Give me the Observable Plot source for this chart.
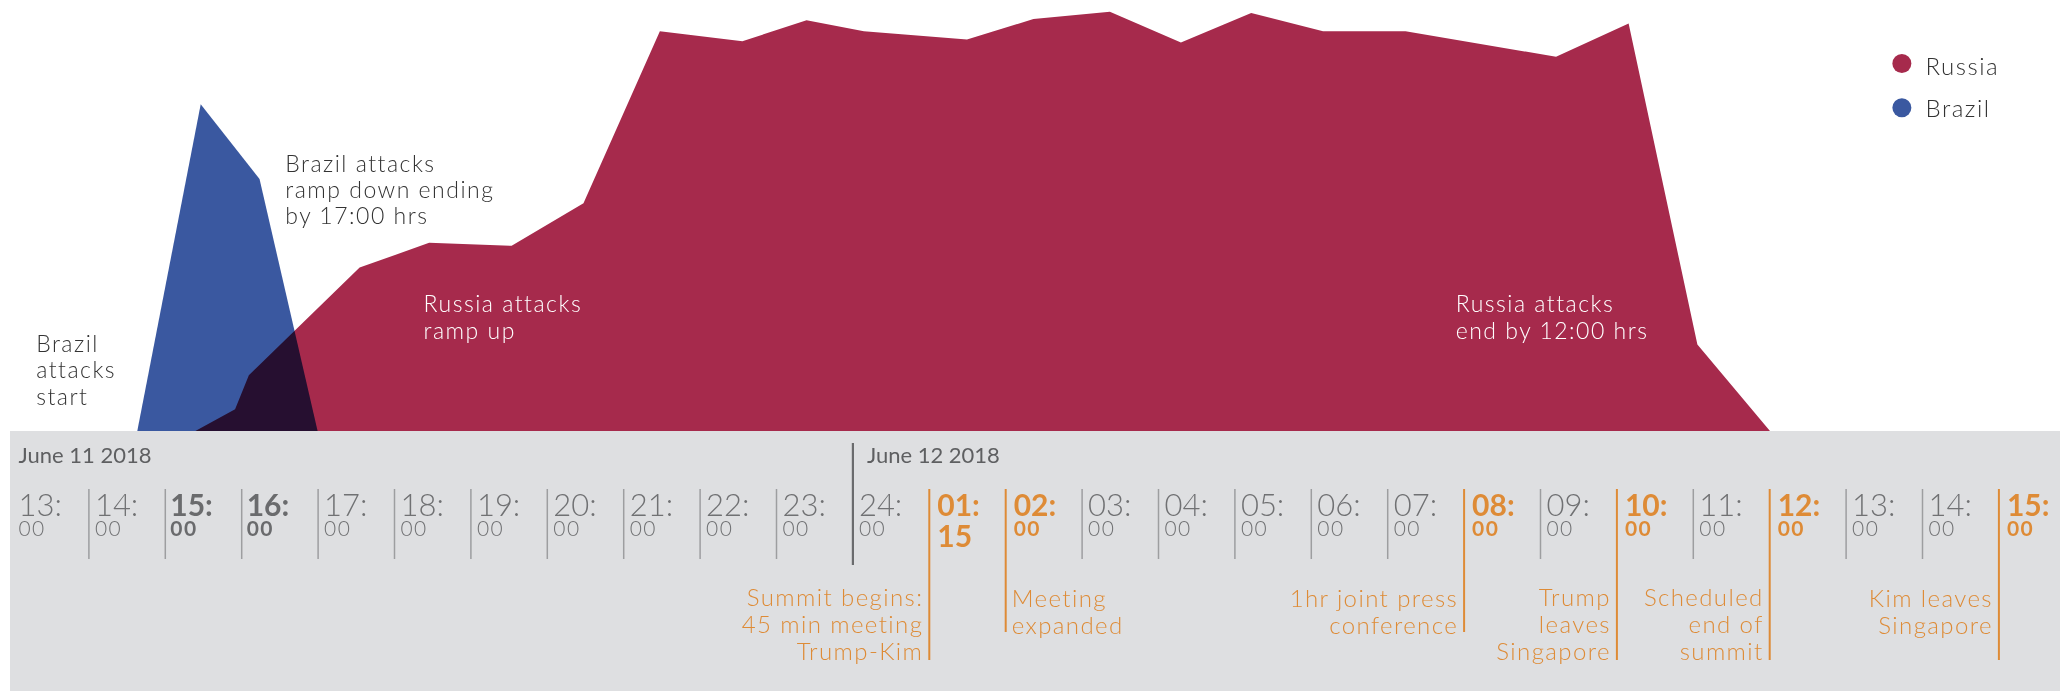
<!DOCTYPE html>
<html><head><meta charset="utf-8">
<script src="https://cdn.jsdelivr.net/npm/d3@7"></script>
<script src="https://cdn.jsdelivr.net/npm/@observablehq/plot@0.6"></script>
<style>
html,body{margin:0;padding:0;background:#fff;overflow:hidden;}
#chart{width:2060px;height:431px;}
#band{margin-left:10px;width:2050px;height:260px;background:#dedfe1;}
</style></head><body>
<div id="chart"></div><div id="band"></div>
<script>
// ---- data ----
// x = hour slots since 13:00 June 11 2018, y = relative attack volume
const russiaHours  = [2.40, 2.92, 3.10, 4.55, 5.46, 6.54, 7.48, 8.48, 9.56, 10.40, 11.15, 12.50, 13.37, 14.37, 15.30, 16.22, 17.16, 18.24, 20.21, 21.16, 22.06, 23.01];
const russiaValues = [0, 5.2, 13.3, 38.9, 44.8, 44.1, 54.2, 95.2, 92.8, 97.8, 95.2, 93.2, 98.1, 99.8, 92.5, 99.5, 95.2, 95.2, 89.1, 97.0, 20.6, 0];
const brazilHours  = [1.64, 2.47, 3.24, 4.00];
const brazilValues = [0, 77.8, 60.0, 0];
const seriesNames  = ["Russia", "Brazil"];
const seriesColors = ["#a62a4c", "#3a58a0"];

const hourTop    = ["13:","14:","15:","16:","17:","18:","19:","20:","21:","22:","23:","24:","01:","02:","03:","04:","05:","06:","07:","08:","09:","10:","11:","12:","13:","14:","15:"];
const hourBottom = ["00","00","00","00","00","00","00","00","00","00","00","00","15","00","00","00","00","00","00","00","00","00","00","00","00","00","00"];
const boldGraySlots = [2, 3];
const eventSlots  = [12, 13, 19, 21, 23, 26];
const eventLabels = ["Summit begins:\n45 min meeting\nTrump-Kim", "Meeting\nexpanded", "1hr joint press\nconference", "Trump\nleaves\nSingapore", "Scheduled\nend of\nsummit", "Kim leaves\nSingapore"];
const eventTextSide = ["left", "right", "left", "left", "left", "left"];
const dateLabels = ["June 11 2018", "June 12 2018"];
const dateSlots  = [0, 11];

const noteTexts  = ["Brazil\nattacks\nstart", "Brazil attacks\nramp down ending\nby 17:00 hrs", "Russia attacks\nramp up", "Russia attacks\nend by 12:00 hrs"];
const noteHours  = [0.31, 3.57, 5.38, 18.89];
const noteValues = [6.4, 49.3, 22.1, 22.1];
const noteInside = [false, false, true, true];

// ---- build ----
const FONT = "Lato, 'Open Sans', sans-serif";
const GRAY = "#707173", ORANGE = "#de8b36", DARK = "#333333";
const xMax = 2048 / 76.4;

const russia = russiaHours.map((h, i) => ({h, v: russiaValues[i]}));
const brazil = brazilHours.map((h, i) => ({h, v: brazilValues[i]}));
const notes = noteTexts.map((t, i) => ({t, h: noteHours[i], v: noteValues[i], inside: noteInside[i]}));
const legend = seriesNames.map((name, i) => ({name, color: seriesColors[i], i}));

const areaChart = Plot.plot({
  width: 2060, height: 431,
  marginLeft: 12, marginRight: 0, marginTop: 11, marginBottom: 0,
  x: {domain: [0, xMax], axis: null},
  y: {domain: [0, 100], axis: null},
  style: {fontFamily: FONT, background: "white", overflow: "visible"},
  marks: [
    Plot.areaY(russia, {x: "h", y: "v", fill: seriesColors[0]}),
    Plot.areaY(brazil, {x: "h", y: "v", fill: seriesColors[1], mixBlendMode: "multiply"}),
    Plot.text(notes.filter(d => !d.inside), {x: "h", y: "v", text: "t", textAnchor: "start", lineAnchor: "bottom", fontSize: 23, lineHeight: 1.14, fontWeight: 300, fill: DARK, className: "spaced"}),
    Plot.text(notes.filter(d => d.inside), {x: "h", y: "v", text: "t", textAnchor: "start", lineAnchor: "bottom", fontSize: 23, lineHeight: 1.14, fontWeight: 300, fill: "white"}),
    Plot.dot(legend, {x: 24.73, y: d => 87.6 - d.i * 10.5, r: 9.5, fill: "color", stroke: null}),
    Plot.text(legend, {x: 25.04, y: d => 85.0 - d.i * 10.2, text: "name", textAnchor: "start", lineAnchor: "bottom", fontSize: 24, fontWeight: 300, fill: DARK})
  ]
});
areaChart.querySelectorAll("text").forEach(t => t.setAttribute("letter-spacing", "1.5"));
document.getElementById("chart").append(areaChart);

const slots = d3.range(hourTop.length);
const regularTicks = slots.filter(i => i > 0 && i !== dateSlots[1] && !eventSlots.includes(i));
const events = eventSlots.map((s, i) => ({s, label: eventLabels[i], side: eventTextSide[i], lines: eventLabels[i].split("\n").length}));
const isOrange = i => eventSlots.includes(i);
const isBoldGray = i => boldGraySlots.includes(i);
const isPlain = i => !isOrange(i) && !isBoldGray(i);

const bandChart = Plot.plot({
  width: 2050, height: 260,
  marginLeft: 2, marginRight: 0, marginTop: 0, marginBottom: 0,
  x: {domain: [0, xMax], axis: null},
  y: {domain: [0, 260], range: [0, 260], axis: null},
  style: {fontFamily: FONT, background: "transparent", overflow: "visible"},
  marks: [
    Plot.ruleX(regularTicks, {x: d => d, y1: 58, y2: 128, stroke: "#9d9ea0", strokeWidth: 1.5}),
    Plot.ruleX([dateSlots[1]], {x: d => d, y1: 12, y2: 134, stroke: "#6a6b6d", strokeWidth: 2.2}),
    Plot.ruleX(events, {x: "s", y1: 58, y2: d => (d.lines >= 3 || d.s === 26) ? 229 : 201, stroke: ORANGE, strokeWidth: 2}),
    // date labels
    Plot.text([0], {x: d => dateSlots[d], y: 31.7, text: d => dateLabels[d], dx: 6, textAnchor: "start", lineAnchor: "bottom", fontSize: 22, fontWeight: 400, fill: "#5e5f61"}),
    Plot.text([1], {x: d => dateSlots[d], y: 31.7, text: d => dateLabels[d], dx: 14, textAnchor: "start", lineAnchor: "bottom", fontSize: 22, fontWeight: 400, fill: "#5e5f61"}),
    // hour labels
    Plot.text(slots.filter(isPlain), {x: d => d, y: 84, text: d => hourTop[d], dx: 6, textAnchor: "start", lineAnchor: "bottom", fontSize: 31, fontWeight: 300, fill: GRAY}),
    Plot.text(slots.filter(isPlain), {x: d => d, y: 104.7, text: d => hourBottom[d], dx: 6, textAnchor: "start", lineAnchor: "bottom", fontSize: 21, fontWeight: 300, fill: GRAY}),
    Plot.text(slots.filter(isBoldGray), {x: d => d, y: 84, text: d => hourTop[d], dx: 5, textAnchor: "start", lineAnchor: "bottom", fontSize: 30, fontWeight: 700, fill: "#6a6b6d"}),
    Plot.text(slots.filter(isBoldGray), {x: d => d, y: 104.7, text: d => hourBottom[d], dx: 5, textAnchor: "start", lineAnchor: "bottom", fontSize: 21, fontWeight: 700, fill: "#6a6b6d"}),
    Plot.text(slots.filter(isOrange), {x: d => d, y: 84, text: d => hourTop[d], dx: 8, textAnchor: "start", lineAnchor: "bottom", fontSize: 30, fontWeight: 700, fill: ORANGE}),
    Plot.text(slots.filter(i => isOrange(i) && hourBottom[i] === "00"), {x: d => d, y: 104.7, text: d => hourBottom[d], dx: 8, textAnchor: "start", lineAnchor: "bottom", fontSize: 21, fontWeight: 700, fill: ORANGE}),
    Plot.text(slots.filter(i => isOrange(i) && hourBottom[i] !== "00"), {x: d => d, y: 115.7, text: d => hourBottom[d], dx: 8, textAnchor: "start", lineAnchor: "bottom", fontSize: 30, fontWeight: 700, fill: ORANGE}),
    // event labels
    Plot.text(events.filter(d => d.side === "left"), {x: "s", y: d => d.lines >= 3 ? 228.3 : 202.3, text: "label", dx: -6, textAnchor: "end", lineAnchor: "bottom", fontSize: 24, lineHeight: 1.125, fontWeight: 300, fill: ORANGE}),
    Plot.text(events.filter(d => d.side === "right"), {x: "s", y: d => d.lines >= 3 ? 228.3 : 202.3, text: "label", dx: 6, textAnchor: "start", lineAnchor: "bottom", fontSize: 24, lineHeight: 1.125, fontWeight: 300, fill: ORANGE})
  ]
});
// wider tracking to approximate the original geometric typeface
bandChart.querySelectorAll("g[font-size='24'] text, g[font-size='21'] text").forEach(t => t.setAttribute("letter-spacing", "1.4"));
document.getElementById("band").append(bandChart);
</script>
</body></html>
